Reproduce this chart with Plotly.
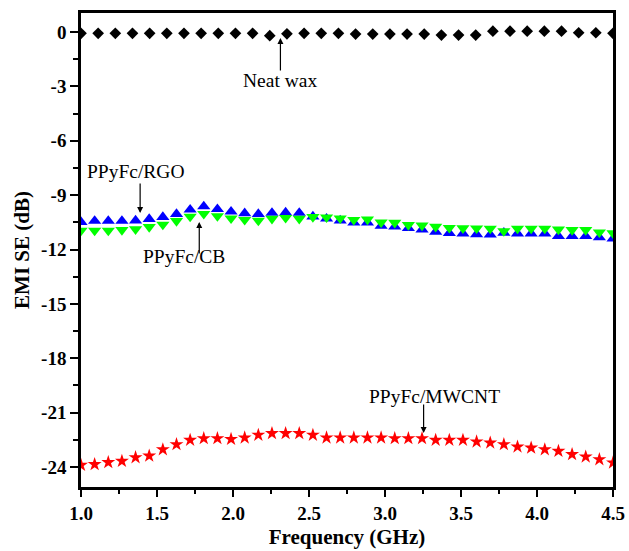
import numpy as np
import plotly.graph_objects as go

# ---- data ----
freq_wax = np.linspace(1.0, 4.5, 32)
se_wax = [-0.07, -0.07, -0.07, -0.07, -0.07, -0.07, -0.07, -0.07, -0.07, -0.07, -0.07,
          -0.20, -0.10, -0.07, -0.07, -0.07, -0.11, -0.11, -0.11, -0.11, -0.11,
          -0.17, -0.17, -0.17, 0.05, 0.05, 0.05, 0.05, 0.05, -0.04, -0.04, -0.07]

freq = np.linspace(1.0, 4.5, 40)
se_rgo = [-10.48, -10.42, -10.42, -10.42, -10.40, -10.32, -10.21, -10.04, -9.80, -9.62,
          -9.77, -9.91, -10.00, -10.04, -9.98, -9.96, -9.98, -10.18, -10.30, -10.40,
          -10.52, -10.52, -10.70, -10.74, -10.82, -10.90, -11.02, -11.10, -11.12, -11.16,
          -11.18, -11.08, -11.12, -11.12, -11.12, -11.26, -11.26, -11.26, -11.33, -11.40]
se_cb = [-10.95, -10.95, -10.95, -10.92, -10.88, -10.75, -10.62, -10.42, -10.18, -10.03,
         -10.15, -10.28, -10.36, -10.40, -10.30, -10.25, -10.30, -10.20, -10.22, -10.28,
         -10.36, -10.34, -10.50, -10.52, -10.64, -10.67, -10.74, -10.80, -10.82, -10.83,
         -10.84, -10.98, -10.84, -10.84, -10.84, -10.89, -10.92, -10.92, -11.05, -11.10]
se_mwcnt = [-23.89, -23.85, -23.74, -23.67, -23.47, -23.38, -23.03, -22.75, -22.51, -22.42,
            -22.42, -22.46, -22.38, -22.23, -22.14, -22.14, -22.14, -22.23, -22.38, -22.38,
            -22.38, -22.38, -22.38, -22.42, -22.42, -22.42, -22.51, -22.51, -22.51, -22.60,
            -22.66, -22.75, -22.88, -22.94, -23.03, -23.12, -23.30, -23.43, -23.58, -23.76]

y_ticks = [0, -3, -6, -9, -12, -15, -18, -21, -24]
x_ticks = [1.0, 1.5, 2.0, 2.5, 3.0, 3.5, 4.0, 4.5]

SERIF = "Liberation Serif"

fig = go.Figure()
fig.add_trace(go.Scatter(x=freq_wax, y=se_wax, mode="markers", name="Neat wax",
                         marker=dict(symbol="diamond", size=9, color="#000000")))
fig.add_trace(go.Scatter(x=freq, y=se_rgo, mode="markers", name="PPyFc/RGO",
                         marker=dict(symbol="triangle-up", size=11.5, color="#0000FF")))
fig.add_trace(go.Scatter(x=freq, y=se_cb, mode="markers", name="PPyFc/CB",
                         marker=dict(symbol="triangle-down", size=11.5, color="#00FF00")))
fig.add_trace(go.Scatter(x=freq, y=se_mwcnt, mode="markers", name="PPyFc/MWCNT",
                         marker=dict(symbol="star", size=10.5, color="#FF0000")))

ann_font = dict(family=SERIF, size=19.5, color="black")
labels = [
    ("Neat wax", 2.312, -2.70),
    ("PPyFc/RGO", 1.363, -7.67),
    ("PPyFc/CB", 1.679, -12.36),
    ("PPyFc/MWCNT", 3.327, -20.08),
]
for txt, lx, ly in labels:
    fig.add_annotation(x=lx, y=ly, text=txt, showarrow=False, font=ann_font)

arrows = [
    (2.312, -0.33, 34),
    (1.389, -9.99, -31),
    (1.778, -10.48, 33),
    (3.254, -22.12, -30),
]
for axx, ayy, off in arrows:
    fig.add_annotation(x=axx, y=ayy, text="", showarrow=True, ax=0, ay=off,
                       arrowhead=2, arrowsize=1, arrowwidth=1.2, arrowcolor="black")

fig.update_layout(
    width=629, height=551,
    margin=dict(l=81, r=16, t=13, b=64),
    plot_bgcolor="white", paper_bgcolor="white",
    showlegend=False,
    font=dict(family=SERIF, color="black"),
)
fig.update_xaxes(
    range=[1.0, 4.5], tickvals=x_ticks, ticktext=[f"{v:.1f}" for v in x_ticks],
    showgrid=False, zeroline=False,
    showline=True, linecolor="black", linewidth=2.5, mirror=True,
    ticks="outside", ticklen=7, tickwidth=2, tickcolor="black",
    minor=dict(dtick=0.25, ticks="outside", ticklen=4, tickwidth=2, tickcolor="black", showgrid=False),
    tickfont=dict(family=SERIF, size=19, weight="bold"),
    title=dict(text="Frequency (GHz)", font=dict(family=SERIF, size=21, weight="bold"), standoff=7),
    automargin=False,
)
fig.update_yaxes(
    range=[-25.1, 1.05], tickvals=y_ticks, ticktext=[str(v) for v in y_ticks],
    showgrid=False, zeroline=False,
    showline=True, linecolor="black", linewidth=2.5, mirror=True,
    ticks="outside", ticklen=8, tickwidth=2, tickcolor="black",
    minor=dict(dtick=1.5, tick0=0, ticks="outside", ticklen=5, tickwidth=2, tickcolor="black", showgrid=False),
    tickfont=dict(family=SERIF, size=19, weight="bold"),
    title=dict(text="EMI SE (dB)", font=dict(family=SERIF, size=21, weight="bold"), standoff=6),
    automargin=False,
)

fig.write_html("out.html")
